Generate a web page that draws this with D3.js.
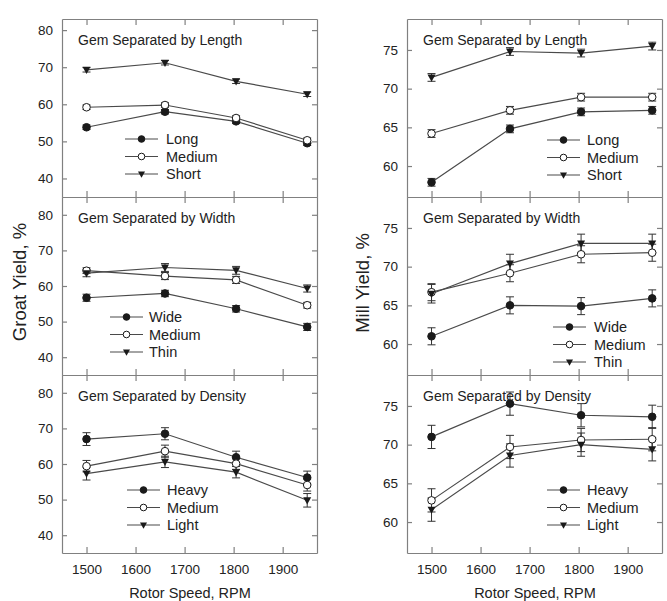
<!DOCTYPE html>
<html>
<head>
<meta charset="utf-8">
<script src="https://cdn.jsdelivr.net/npm/d3@7"></script>
<style>
	body { margin: 0; background: #fff; }
	text { font-family: "Liberation Sans", Arial, sans-serif; fill: #222; }
</style>
</head>
<body>
<div id="chart"></div>
<script>
// rotor speeds tested and axis ticks
const rpm = [1500, 1660, 1805, 1950];
const rpmTicks = [1500, 1600, 1700, 1800, 1900];
const groatTicks = [40, 50, 60, 70, 80];
const millTicks = [60, 65, 70, 75];

const lengthNames = ["Long", "Medium", "Short"];
const widthNames = ["Wide", "Medium", "Thin"];
const densityNames = ["Heavy", "Medium", "Light"];

// groat yield, %
const groatLength = [[53.8, 58.0, 55.4, 49.5], [59.2, 59.8, 56.3, 50.3], [69.3, 71.2, 66.2, 62.7]];
const groatLengthErr = [[0.6, 0.6, 0.6, 0.6], [0.6, 0.6, 0.6, 0.6], [0.6, 0.6, 0.6, 0.6]];
const groatWidth = [[56.7, 57.9, 53.6, 48.5], [64.3, 62.8, 61.7, 54.6], [63.6, 65.2, 64.4, 59.3]];
const groatWidthErr = [[1.0, 0.9, 0.9, 1.0], [0.8, 1.0, 1.0, 0.8], [1.0, 1.1, 1.1, 1.0]];
const groatDensity = [[67.0, 68.5, 61.9, 56.2], [59.4, 63.6, 60.1, 54.1], [57.3, 60.6, 57.7, 49.8]];
const groatDensityErr = [[1.8, 1.7, 1.7, 1.8], [1.6, 1.7, 1.6, 1.7], [1.8, 1.6, 1.6, 1.9]];

// mill yield, %
const millLength = [[57.9, 64.8, 67.0, 67.2], [64.2, 67.2, 68.9, 68.9], [71.45, 74.8, 74.6, 75.5]];
const millLengthErr = [[0.5, 0.5, 0.5, 0.5], [0.5, 0.5, 0.5, 0.5], [0.5, 0.5, 0.5, 0.5]];
const millWidth = [[61.0, 65.0, 64.9, 65.9], [66.7, 69.15, 71.6, 71.8], [66.5, 70.4, 73.0, 73.0]];
const millWidthErr = [[1.1, 1.1, 1.1, 1.1], [1.1, 1.1, 1.1, 1.1], [1.2, 1.2, 1.2, 1.2]];
const millDensity = [[71.0, 75.3, 73.8, 73.6], [62.8, 69.7, 70.6, 70.7], [61.6, 68.6, 70.0, 69.4]];
const millDensityErr = [[1.5, 1.5, 1.5, 1.5], [1.5, 1.5, 1.5, 1.5], [1.5, 1.5, 1.5, 1.5]];

const width = 667, height = 601;
const panelW = 255, panelH = 178;
const colX = [62, 407];
const rowY = [19, 197, 375];

const lineColor = "#4a4a4a";
const axisColor = "#808080";
const markColor = "#1a1a1a";

const svg = d3.select("#chart").append("svg")
	.attr("width", width).attr("height", height);

const x = d3.scaleLinear().domain([1450, 1970]).range([0, panelW]);

function marker(sel, k, size){
	if (k == 2) {
		let s = size;
		sel.append("path")
			.attr("d", "M" + (-s) + "," + (-s * 0.75) + "L" + s + "," + (-s * 0.75) + "L0," + (s * 1.05) + "Z")
			.attr("fill", markColor);
	} else {
		sel.append("circle").attr("r", size * 0.95)
			.attr("fill", k == 0 ? markColor : "#fff")
			.attr("stroke", markColor).attr("stroke-width", 1);
	}
}

function drawPanel(col, row, yDomain, yTicks, title, names, vals, errs, leg, showX){
	let g = svg.append("g").attr("transform", "translate(" + colX[col] + "," + rowY[row] + ")");
	let y = d3.scaleLinear().domain(yDomain).range([panelH, 0]);

	let ax = [
		g.append("g").call(d3.axisLeft(y).tickValues(yTicks).tickSizeInner(-5).tickSizeOuter(0).tickPadding(9)),
		g.append("g").attr("transform", "translate(" + panelW + ",0)")
			.call(d3.axisRight(y).tickValues(yTicks).tickSizeInner(-5).tickSizeOuter(0).tickFormat("")),
		g.append("g").call(d3.axisTop(x).tickValues(rpmTicks).tickSizeInner(-6).tickSizeOuter(0).tickFormat("")),
		g.append("g").attr("transform", "translate(0," + panelH + ")")
			.call(d3.axisBottom(x).tickValues(rpmTicks).tickSizeInner(-6).tickSizeOuter(0).tickPadding(11)
				.tickFormat(showX ? d3.format("d") : ""))
	];
	ax.forEach(a => {
		a.selectAll("path, line").attr("stroke", axisColor).attr("stroke-width", 1.2);
		a.selectAll("text").style("font-size", "13.5px").attr("fill", "#222");
	});

	g.append("text").attr("x", 16).attr("y", 26)
		.style("font-size", "14px").text(title);

	let line = d3.line().x((d, i) => x(rpm[i])).y(d => y(d));

	vals.forEach((s, k) => {
		let eg = g.append("g");
		s.forEach((v, i) => {
			let e = errs[k][i], cx = x(rpm[i]);
			eg.append("line").attr("x1", cx).attr("x2", cx).attr("y1", y(v - e)).attr("y2", y(v + e));
			eg.append("line").attr("x1", cx - 4).attr("x2", cx + 4).attr("y1", y(v - e)).attr("y2", y(v - e));
			eg.append("line").attr("x1", cx - 4).attr("x2", cx + 4).attr("y1", y(v + e)).attr("y2", y(v + e));
		});
		eg.selectAll("line").attr("stroke", "#333").attr("stroke-width", 1);

		g.append("path").datum(s).attr("d", line)
			.attr("fill", "none").attr("stroke", lineColor).attr("stroke-width", 1.2);
	});

	vals.forEach((s, k) => {
		s.forEach((v, i) => {
			let m = g.append("g").attr("transform", "translate(" + x(rpm[i]) + "," + y(v) + ")");
			marker(m, k, 4);
		});
	});

	// legend
	names.forEach((n, k) => {
		let ly = leg[2] + k * 17.5;
		g.append("line").attr("x1", leg[0]).attr("x2", leg[0] + 33).attr("y1", ly).attr("y2", ly)
			.attr("stroke", lineColor).attr("stroke-width", 1.2);
		let m = g.append("g").attr("transform", "translate(" + (leg[0] + 16.5) + "," + ly + ")");
		marker(m, k, 3.5);
		g.append("text").attr("x", leg[1]).attr("y", ly).attr("dy", "0.36em")
			.style("font-size", "14.5px").text(n);
	});
}

drawPanel(0, 0, [35, 83], groatTicks, "Gem Separated by Length", lengthNames, groatLength, groatLengthErr, [63, 104, 120], false);
drawPanel(0, 1, [35, 85], groatTicks, "Gem Separated by Width", widthNames, groatWidth, groatWidthErr, [48, 87, 120], false);
drawPanel(0, 2, [35, 85], groatTicks, "Gem Separated by Density", densityNames, groatDensity, groatDensityErr, [65, 105, 115], true);
drawPanel(1, 0, [56, 79], millTicks, "Gem Separated by Length", lengthNames, millLength, millLengthErr, [140, 180, 121], false);
drawPanel(1, 1, [56, 79], millTicks, "Gem Separated by Width", widthNames, millWidth, millWidthErr, [146, 187, 130], false);
drawPanel(1, 2, [56, 79], millTicks, "Gem Separated by Density", densityNames, millDensity, millDensityErr, [140, 180, 115], true);

// axis titles
svg.append("text").attr("transform", "translate(26,282) rotate(-90)")
	.attr("text-anchor", "middle").style("font-size", "18.5px").text("Groat Yield, %");
svg.append("text").attr("transform", "translate(369,283) rotate(-90)")
	.attr("text-anchor", "middle").style("font-size", "18.5px").text("Mill Yield, %");
svg.append("text").attr("x", 190).attr("y", 598)
	.attr("text-anchor", "middle").style("font-size", "14.5px").text("Rotor Speed, RPM");
svg.append("text").attr("x", 535).attr("y", 598)
	.attr("text-anchor", "middle").style("font-size", "14.5px").text("Rotor Speed, RPM");
</script>
</body>
</html>
